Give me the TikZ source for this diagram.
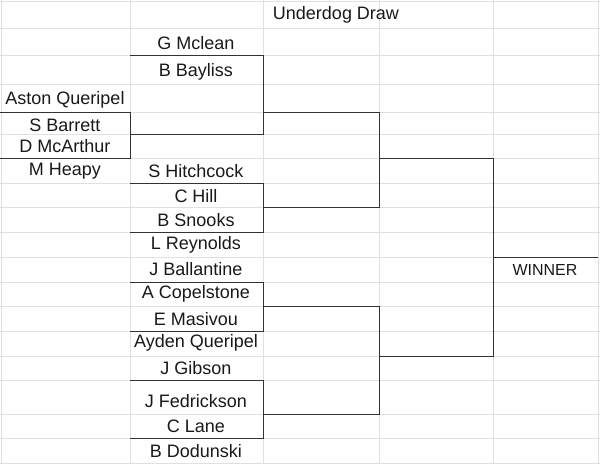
\documentclass[tikz,border=0pt]{standalone}
\usepackage{fontspec}
\setmainfont{Liberation Sans}
\begin{document}
\begin{tikzpicture}[x=1pt,y=-1pt,
  grid/.style={draw=black!12,line width=0.8pt},
  br/.style={draw=black!80,line width=0.9pt},
  nm/.style={font=\fontsize{18}{20}\selectfont,inner sep=0pt,text=black!90},
  small/.style={font=\fontsize{16}{18}\selectfont,inner sep=0pt,text=black!90}]
\useasboundingbox (0,0) rectangle (600,464);
\fill[white] (0,0) rectangle (600,464);
% grid
\foreach \x in {1,130,263,379,493,598} \draw[grid] (\x,0) -- (\x,464);
\foreach \y in {1,28,55,84,112,134,158,183,207,232,257,282,306,331,356,380,414,438,463} \draw[grid] (0,\y) -- (600,\y);
% text
\node[nm] (title) at (336,15) {Underdog Draw};
\node[nm] (n1) at (196,43) {G Mclean};
\node[nm] (n2) at (196,72) {B Bayliss};
\node[nm] (a0) at (65,100) {Aston Queripel};
\node[nm] (a1) at (65,125) {S Barrett};
\node[nm] (a2) at (65,146) {D McArthur};
\node[nm] (a3) at (65,171) {M Heapy};
\node[nm] (n3) at (196,171) {S Hitchcock};
\node[nm] (n4) at (196,196) {C Hill};
\node[nm] (n5) at (196,220) {B Snooks};
\node[nm] (n6) at (196,245) {L Reynolds};
\node[nm] (n7) at (196,269) {J Ballantine};
\node[nm] (n8) at (196,294) {A Copelstone};
\node[nm] (n9) at (196,319) {E Masivou};
\node[nm] (n10) at (196,343) {Ayden Queripel};
\node[nm] (n11) at (196,368) {J Gibson};
\node[nm] (n12) at (196,401) {J Fedrickson};
\node[nm] (n13) at (196,426) {C Lane};
\node[nm] (n14) at (196,451) {B Dodunski};
\node[small] (w) at (545,270) {WINNER};
% brackets
\draw[br] (0,112) -- (130,112) -- (130,158) -- (0,158);
\draw[br] (130,134) -- (263,134) -- (263,55) -- (130,55);
\draw[br] (130,183) -- (263,183) -- (263,232) -- (130,232);
\draw[br] (130,282) -- (263,282) -- (263,331) -- (130,331);
\draw[br] (130,380) -- (263,380) -- (263,438) -- (130,438);
\draw[br] (263,112) -- (379,112) -- (379,207) -- (263,207);
\draw[br] (263,306) -- (379,306) -- (379,414) -- (263,414);
\draw[br] (379,158) -- (493,158) -- (493,356) -- (379,356);
\draw[br] (493,257) -- (598,257);
\end{tikzpicture}
\end{document}
